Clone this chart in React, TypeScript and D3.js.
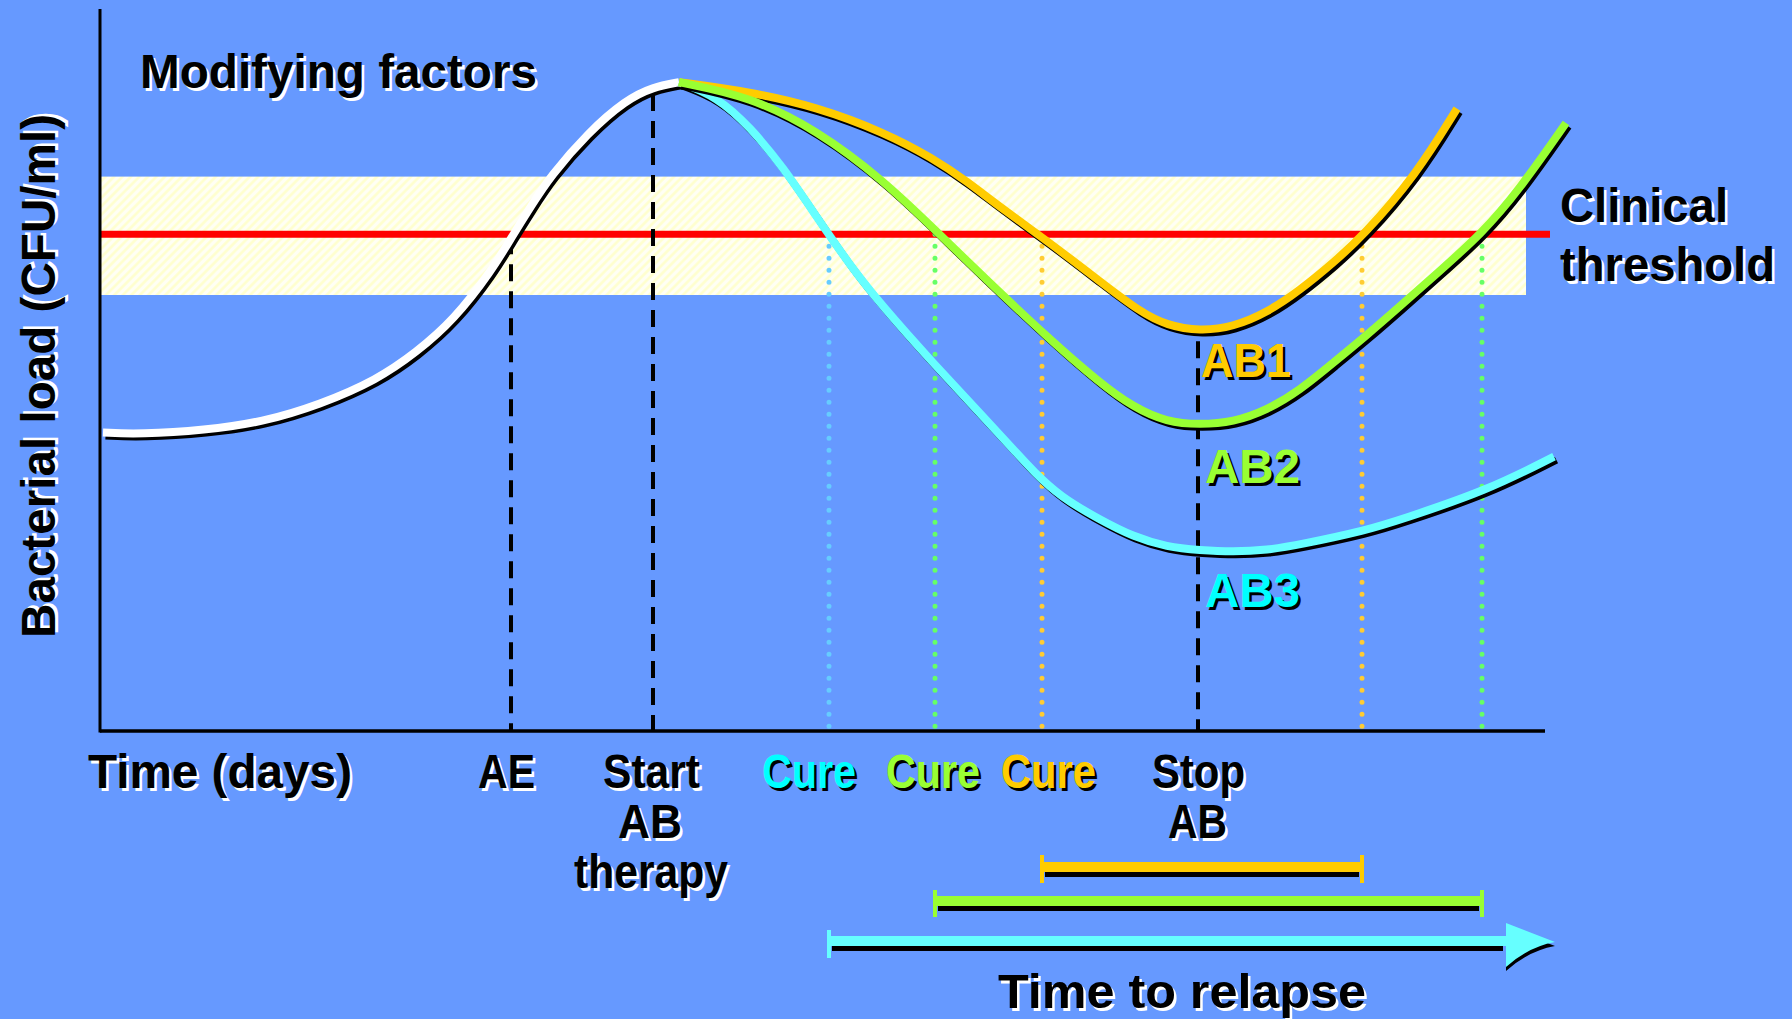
import React from "react";
import * as d3 from "d3";

const W = 1792;
const H = 1019;

// time in days, bacterial load in log10 CFU/ml
const growthDays = [0.06, 0.8, 2.1, 3.24, 4.4, 5.54, 6.32, 7.08, 7.84, 8.22, 8.62, 9.0, 9.76, 10.52, 11.06, 11.58];
const growthLoad = [3.73, 3.71, 3.76, 3.86, 4.08, 4.39, 4.73, 5.14, 5.76, 6.16, 6.56, 6.93, 7.48, 7.89, 8.05, 8.11];

const ab1Days = [11.58, 13.0, 14.34, 15.66, 16.66, 17.34, 18.0, 19.0, 20.0, 20.8, 21.34, 22.0, 22.66, 23.34, 24.0, 24.66, 25.26, 26.32, 27.14];
const ab1Load = [8.11, 7.99, 7.8, 7.49, 7.16, 6.87, 6.55, 6.1, 5.62, 5.24, 5.07, 5.0, 5.05, 5.23, 5.51, 5.85, 6.19, 6.95, 7.78];

const ab2Days = [11.58, 13.0, 14.34, 15.66, 16.74, 17.66, 19.0, 20.0, 20.66, 21.34, 22.0, 22.66, 23.34, 24.0, 24.66, 25.34, 26.0, 26.74, 27.64, 28.38, 29.32];
const ab2Load = [8.11, 7.93, 7.51, 6.89, 6.24, 5.68, 4.89, 4.35, 4.05, 3.86, 3.83, 3.86, 4.01, 4.26, 4.6, 4.95, 5.31, 5.72, 6.22, 6.76, 7.6];

const ab3Days = [11.58, 12.34, 13.0, 13.66, 14.34, 15.0, 15.66, 16.66, 17.66, 18.34, 18.66, 19.2, 20.0, 20.66, 21.34, 22.0, 22.66, 23.34, 24.0, 25.34, 26.0, 27.72, 29.08];
const ab3Load = [8.11, 7.93, 7.55, 7.05, 6.42, 5.82, 5.3, 4.6, 3.93, 3.47, 3.25, 2.93, 2.64, 2.43, 2.3, 2.26, 2.24, 2.26, 2.33, 2.51, 2.64, 3.0, 3.43];

const threshold = 6.21;
const bandLoad = [5.45, 6.93];

// AE, start AB, stop AB
const eventDays = [8.22, 11.06, 21.96];
const eventTops = [6.21, 8.0, 4.91];

// cure (load drops under threshold) and relapse days per regimen: AB3, AB2, AB1
const cureDays = [14.58, 16.7, 18.84];
const relapseDays = [29.1, 27.64, 25.24];

const toPts = (d: number[], l: number[]) => d.map((v, i) => [v, l[i]] as [number, number]);

const FONT = "'Liberation Sans', Arial, Helvetica, sans-serif";

function Label({ x, y, text, len, fill = "#000", shadow = "#fff", size = 48, rotate = 0 }: any) {
  const common = {
    fontFamily: FONT,
    fontWeight: 700,
    fontSize: size,
    textLength: len,
    lengthAdjust: "spacingAndGlyphs",
  };
  const tr = rotate ? `rotate(${rotate} ${x} ${y})` : undefined;
  return (
    <g transform={tr}>
      <text x={x + 2.5} y={y + 2.5} fill={shadow} {...common}>{text}</text>
      <text x={x} y={y} fill={fill} {...common}>{text}</text>
    </g>
  );
}

export default function App() {
  const x = d3.scaleLinear().domain([0, 30]).range([100, 1600]);
  const y = d3.scaleLinear().domain([0, 9]).range([731, 11]);

  const line = d3
    .line<[number, number]>()
    .x((d) => x(d[0]))
    .y((d) => y(d[1]))
    .curve(d3.curveBasis);

  const series = [
    { pts: toPts(ab3Days, ab3Load), color: "#66FFFF" },
    { pts: toPts(ab1Days, ab1Load), color: "#FFCC00" },
    { pts: toPts(ab2Days, ab2Load), color: "#99FF33" },
  ];

  const dotColors = ["#66CCFF", "#66FF66", "#FFCC33"];
  const barColors = ["#66FFFF", "#99FF33", "#FFCC00"];
  const barRows = [941, 901, 867];
  const capUp = [11, 11, 12];
  const capDown = [17, 16, 16];

  const x0 = x(0);
  const y0 = y(0);
  const growth = line(toPts(growthDays, growthLoad)) || "";

  return (
    <svg width={W} height={H} style={{ position: "absolute", left: 0, top: 0, display: "block" }}>
      <defs>
        <pattern id="hatch" width="6" height="6" patternUnits="userSpaceOnUse" patternTransform="rotate(45)">
          <rect width="6" height="6" fill="#FFFFF4" />
          <line x1="1.5" y1="0" x2="1.5" y2="6" stroke="#FFFFCC" strokeWidth="2.5" />
        </pattern>
      </defs>
      <rect width={W} height={H} fill="#6699FF" />

      {/* clinical threshold band */}
      <rect x={x0} y={y(bandLoad[1])} width={x(28.52) - x0} height={y(bandLoad[0]) - y(bandLoad[1])} fill="url(#hatch)" />
      <line x1={x0} x2={x(29)} y1={y(threshold)} y2={y(threshold)} stroke="#FF0000" strokeWidth={7} />

      {/* cure / relapse dotted markers */}
      {cureDays.map((d, i) => (
        <line key={"c" + i} x1={x(d)} x2={x(d)} y1={y(threshold) + (i === 1 ? 0 : 12)} y2={y0 - 4}
          stroke={dotColors[i]} strokeWidth={5} strokeDasharray="0 12" strokeLinecap="round" />
      ))}
      {relapseDays.slice(1).map((d, i) => (
        <line key={"r" + i} x1={x(d)} x2={x(d)} y1={y(threshold) + 12} y2={y0 - 4}
          stroke={dotColors[i + 1]} strokeWidth={5} strokeDasharray="0 12" strokeLinecap="round" />
      ))}

      {/* event dashed lines */}
      {eventDays.map((d, i) => (
        <line key={"e" + i} x1={x(d)} x2={x(d)} y1={y(eventTops[i]) + 3} y2={y0}
          stroke="#000" strokeWidth={4} strokeDasharray="17 10" />
      ))}

      {/* growth curve */}
      <path d={growth} fill="none" stroke="#000" strokeWidth={7} transform="translate(2.5,3.5)" />
      <path d={growth} fill="none" stroke="#fff" strokeWidth={8} />

      {/* treatment curves */}
      {series.map((s, i) => (
        <g key={"s" + i}>
          <path d={line(s.pts) || ""} fill="none" stroke="#000" strokeWidth={7} transform="translate(2.5,3.5)" />
          <path d={line(s.pts) || ""} fill="none" stroke={s.color} strokeWidth={8} />
        </g>
      ))}

      {/* axes */}
      <line x1={x0} x2={x0} y1={9} y2={y0 + 1.5} stroke="#000" strokeWidth={3} />
      <line x1={x0} x2={x(28.9)} y1={y0} y2={y0} stroke="#000" strokeWidth={3.5} />

      {/* time to relapse bars */}
      {cureDays.map((d, i) => {
        const yc = barRows[i];
        const xa = x(d);
        const xb = x(relapseDays[i]);
        const arrow = i === 0;
        const shaftEnd = arrow ? x(28.12) : xb;
        const head = `M${shaftEnd},${yc - 18} L${xb},${yc + 1} Q${shaftEnd + 22},${yc + 6} ${shaftEnd},${yc + 26} Z`;
        return (
          <g key={"b" + i}>
            <line x1={xa + 3} x2={shaftEnd - 3} y1={yc + 7} y2={yc + 7} stroke="#000" strokeWidth={6} />
            <line x1={xa} x2={shaftEnd} y1={yc} y2={yc} stroke={barColors[i]} strokeWidth={10} />
            <line x1={xa} x2={xa} y1={yc - capUp[i]} y2={yc + capDown[i]} stroke={barColors[i]} strokeWidth={4} />
            {!arrow && (
              <line x1={xb} x2={xb} y1={yc - capUp[i]} y2={yc + capDown[i]} stroke={barColors[i]} strokeWidth={4} />
            )}
            {arrow && (
              <g>
                <path d={head} fill="#000" transform="translate(0,4)" />
                <path d={head} fill={barColors[i]} />
              </g>
            )}
          </g>
        );
      })}

      {/* text */}
      <Label x={140} y={88} text="Modifying factors" len={397} />
      <Label x={55} y={638} text="Bacterial load (CFU/ml)" len={524} rotate={-90} />
      <Label x={1560} y={222} text="Clinical" len={168} />
      <Label x={1560} y={281} text="threshold" len={215} />
      <Label x={1201} y={377} text="AB1" len={90} fill="#FFCC00" shadow="#000" />
      <Label x={1205} y={483} text="AB2" len={95} fill="#99FF33" shadow="#000" />
      <Label x={1205} y={607} text="AB3" len={95} fill="#00FFFF" shadow="#000" />

      <Label x={88} y={788} text="Time (days)" len={264} />
      <Label x={478} y={788} text="AE" len={57} />
      <Label x={603} y={788} text="Start" len={97} />
      <Label x={618} y={838} text="AB" len={64} />
      <Label x={574} y={888} text="therapy" len={154} />
      <Label x={762} y={788} text="Cure" len={94} fill="#00FFFF" shadow="#000" />
      <Label x={886} y={788} text="Cure" len={94} fill="#99FF33" shadow="#000" />
      <Label x={1001} y={788} text="Cure" len={95} fill="#FFCC00" shadow="#000" />
      <Label x={1152} y={788} text="Stop" len={93} />
      <Label x={1168} y={838} text="AB" len={59} />
      <Label x={998} y={1008} text="Time to relapse" len={368} />
    </svg>
  );
}
